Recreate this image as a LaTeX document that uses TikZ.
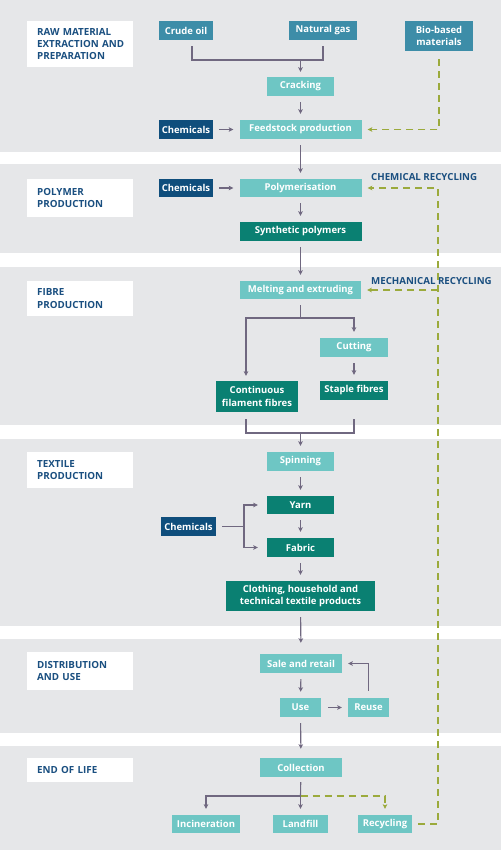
\documentclass[tikz,border=0pt]{standalone}
\usepackage{fontspec}
\setmainfont{Open Sans}
\usetikzlibrary{arrows.meta}
\definecolor{bandgray}{RGB}{230,231,233}
\definecolor{steel}{RGB}{61,141,168}
\definecolor{lteal}{RGB}{110,198,196}
\definecolor{dteal}{RGB}{10,128,114}
\definecolor{navy}{RGB}{15,78,124}
\definecolor{stageblue}{RGB}{26,79,128}
\definecolor{arrowgray}{RGB}{112,104,128}
\definecolor{dashgreen}{RGB}{155,170,60}
\tikzset{>={Stealth[length=4.5pt,width=4.5pt,inset=1pt]}}
\tikzset{box/.style = {minimum height=19pt, inner sep=0pt, text=white, align=center,
                       font=\bfseries\fontsize{9.5}{12.5}\selectfont},
         source/.style = {box, fill=steel},
         process/.style = {box, fill=lteal},
         product/.style = {box, fill=dteal},
         chem/.style = {box, fill=navy},
         stage/.style = {fill=white, text=stageblue, align=left, anchor=west,
                         text width=86pt, inner xsep=10pt, inner ysep=0pt,
                         font=\bfseries\fontsize{9.8}{12.3}\selectfont},
         reclabel/.style = {text=stageblue, anchor=west, inner sep=0pt,
                            font=\bfseries\fontsize{9.7}{11}\selectfont},
         flow/.style = {draw=arrowgray, line width=1.1pt},
         gap/.style = {shorten <=6pt, shorten >=6pt},
         dashflow/.style = {draw=dashgreen, line width=1.2pt, dash pattern=on 7pt off 5pt}}

\begin{document}
\begin{tikzpicture}[x=1pt, y=-1pt]
    \useasboundingbox (0, 0) rectangle (501, 850);
    \foreach \top/\bot in {0/152, 164/253, 267/425, 439/626, 639/733, 746/850}
      \fill [bandgray] (0, \top) rectangle (501, \bot);

    \node [stage, minimum height=46pt] (stage1) at (27, 44) {RAW MATERIAL\\EXTRACTION~AND\\PREPARATION};
    \node [stage, minimum height=38pt] (stage2) at (27, 198) {POLYMER\\PRODUCTION};
    \node [stage, minimum height=35pt] (stage3) at (27, 298.5) {FIBRE\\PRODUCTION};
    \node [stage, minimum height=36pt] (stage4) at (27, 470) {TEXTILE\\PRODUCTION};
    \node [stage, minimum height=38pt] (stage5) at (27, 671) {DISTRIBUTION\\AND USE};
    \node [stage, minimum height=24pt] (stage6) at (27, 770) {END OF LIFE};

    \node [source, minimum width=54pt] (crude) at (186, 30.5) {Crude oil};
    \node [source, minimum width=68pt] (gas) at (323, 30.5) {Natural gas};
    \node [source, minimum width=68pt, minimum height=30pt] (bio) at (439, 36) {Bio-based\\materials};
    \node [process, minimum width=67pt] (crack) at (300.5, 86.5) {Cracking};
    \node [chem, minimum width=54pt] (chem1) at (186, 129.5) {Chemicals};
    \node [process, minimum width=122pt] (feed) at (300.5, 129.5) {Feedstock production};

    \node [chem, minimum width=54pt, minimum height=18pt] (chem2) at (186, 188) {Chemicals};
    \node [process, minimum width=122pt, minimum height=18pt] (poly) at (300.5, 188) {Polymerisation};
    \node [product, minimum width=122pt] (synth) at (300.5, 231.5) {Synthetic polymers};
    \node [reclabel] (chemrecname) at (371, 177) {CHEMICAL RECYCLING};

    \node [process, minimum width=121pt, minimum height=18pt] (melt) at (300.5, 290) {Melting and extruding};
    \node [reclabel] (mechrecname) at (371, 281) {MECHANICAL RECYCLING};
    \node [process, minimum width=68pt] (cut) at (354, 347.5) {Cutting};
    \node [product, minimum width=68pt] (staple) at (354, 390.5) {Staple fibres};
    \node [product, minimum width=82pt, minimum height=31pt] (cont) at (257, 396.5) {Continuous\\filament fibres};

    \node [process, minimum width=67pt] (spin) at (300.5, 461.5) {Spinning};
    \node [product, minimum width=67pt, minimum height=18pt] (yarn) at (300.5, 505) {Yarn};
    \node [product, minimum width=67pt] (fabric) at (300.5, 547.5) {Fabric};
    \node [chem, minimum width=55pt] (chem3) at (188.5, 526.5) {Chemicals};
    \node [product, minimum width=149pt, minimum height=30pt] (cloth) at (300.5, 596) {Clothing, household and\\technical textile products};

    \node [process, minimum width=82pt] (sale) at (301, 663.5) {Sale and retail};
    \node [process, minimum width=41pt] (use) at (300.5, 707.5) {Use};
    \node [process, minimum width=41pt] (reuse) at (368.5, 707.5) {Reuse};

    \node [process, minimum width=82pt] (coll) at (301, 767.5) {Collection};
    \node [process, minimum width=68pt, minimum height=18pt] (incin) at (206, 824) {Incineration};
    \node [process, minimum width=55pt, minimum height=18pt] (land) at (300.5, 824) {Landfill};
    \node [process, minimum width=54pt, minimum height=18pt] (recycling) at (385, 824) {Recycling};

    \coordinate (mix) at (300.5, 60);
    \coordinate (fork1) at (300.5, 318);
    \coordinate (join2) at (300.5, 433);
    \coordinate (fork2) at (244, 526.5);
    \coordinate (fork3) at (300.5, 796);
    \coordinate (chemrec) at (438, 188);
    \coordinate (mechrec) at (438, 290);

    \draw [flow] ([shift={(6,6)}]crude.south) |- (mix) -| ([yshift=-6pt]gas.south);
    \draw [flow, ->, shorten >=5pt] (mix) -- (crack);
    \draw [flow, gap, ->] (crack) -- (feed);
    \draw [flow, gap, ->] (chem1) -- (feed);
    \draw [dashflow, ->, shorten <=8pt, shorten >=6pt] (bio) |- (feed);
    \draw [flow, gap, ->] (feed) -- (poly);
    \draw [flow, gap, ->] (chem2) -- (poly);
    \draw [flow, gap, ->] (poly) -- (synth);
    \draw [flow, gap, ->] (synth) -- (melt);
    \draw [dashflow, ->, shorten <=6pt, shorten >=6pt] (recycling) -| (chemrec) -- (poly);
    \draw [dashflow, ->, shorten >=6pt] (mechrec) -- (melt);

    \draw [flow, shorten <=6pt] (melt) -- (fork1);
    \draw [flow, ->, shorten >=5pt] (fork1) -| ([xshift=-11pt]cont.north);
    \draw [flow, ->, shorten >=6pt] (fork1) -| (cut);
    \draw [flow, gap, ->] (cut) -- (staple);
    \draw [flow] ([shift={(-11,7)}]cont.south) |- (join2) -| ([yshift=-19pt]staple.south);
    \draw [flow, ->, shorten >=6pt] (join2) -- (spin);

    \draw [flow, gap, ->] (spin) -- (yarn);
    \draw [flow, gap, ->] (yarn) -- (fabric);
    \draw [flow, shorten <=6pt] (chem3) -- (fork2);
    \draw [flow, ->, shorten >=9pt] (fork2) |- (yarn);
    \draw [flow, ->, shorten >=9pt] (fork2) |- (fabric);
    \draw [flow, gap, ->] (fabric) -- (cloth);
    \draw [flow, ->, shorten <=6pt, shorten >=11pt] (cloth) -- (sale);

    \draw [flow, gap, ->] (sale) -- (use);
    \draw [flow, ->, shorten <=7pt, shorten >=6pt] (use) -- (reuse);
    \draw [flow, ->, shorten <=7pt, shorten >=6pt] (reuse) |- (sale);
    \draw [flow, ->, shorten <=6pt, shorten >=9pt] (use) -- (coll);

    \draw [flow, shorten <=5pt] (coll) -- (fork3);
    \draw [flow, ->, shorten >=6pt] (fork3) -| (incin);
    \draw [flow, ->, shorten >=6pt] (fork3) -- (land);
    \draw [dashflow, ->, shorten >=6pt] (fork3) -| (recycling);
  \end{tikzpicture}
\end{document}
